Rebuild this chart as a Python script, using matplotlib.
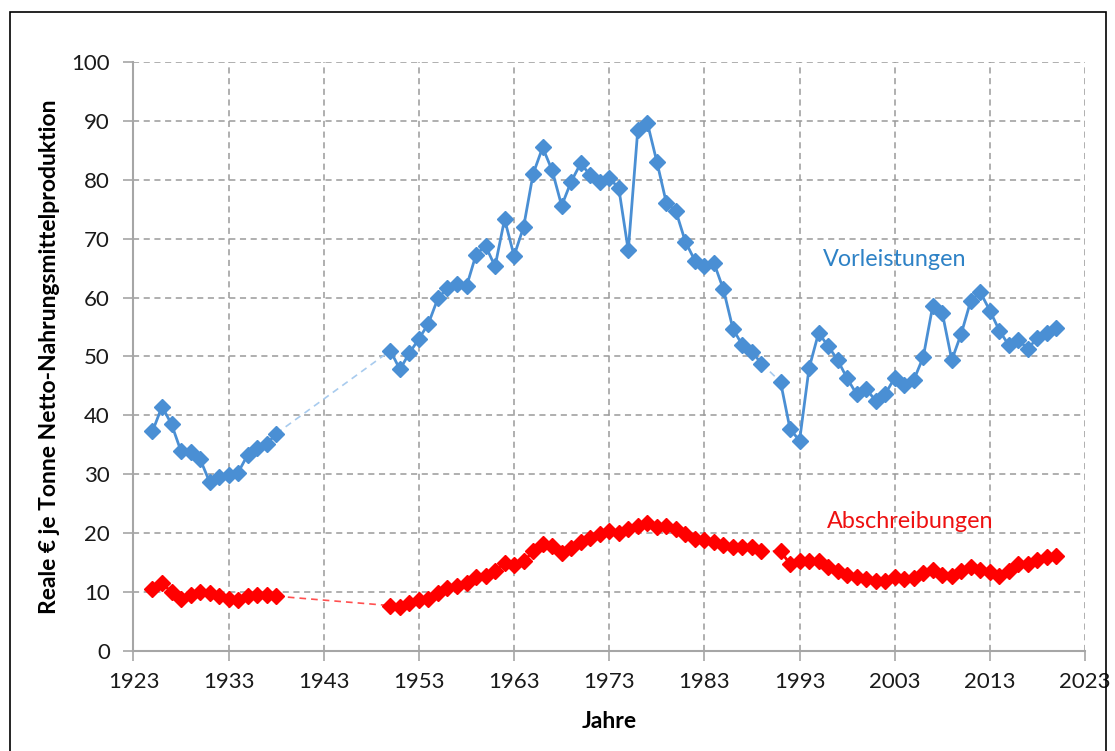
import matplotlib.pyplot as plt
from matplotlib.patches import Rectangle

plt.rcParams['font.family'] = ['Lato', 'DejaVu Sans']

# Vorleistungen (blue)
years_v = [1925, 1926, 1927, 1928, 1929, 1930, 1931, 1932, 1933, 1934, 1935, 1936, 1937, 1938,
           1950, 1951, 1952, 1953, 1954, 1955, 1956, 1957, 1958, 1959, 1960, 1961, 1962, 1963, 1964,
           1965, 1966, 1967, 1968, 1969, 1970, 1971, 1972, 1973, 1974, 1975, 1976, 1977, 1978, 1979,
           1980, 1981, 1982, 1983, 1984, 1985, 1986, 1987, 1988, 1989,
           1991, 1992, 1993, 1994, 1995, 1996, 1997, 1998, 1999, 2000, 2001, 2002, 2003, 2004, 2005,
           2006, 2007, 2008, 2009, 2010, 2011, 2012, 2013, 2014, 2015, 2016, 2017, 2018, 2019, 2020]
vorleistungen = [37.3, 41.5, 38.5, 33.9, 33.7, 32.6, 28.7, 29.6, 29.9, 30.3, 33.3, 34.4, 35.1, 36.9,
                 51.0, 47.8, 50.6, 53.0, 55.6, 59.9, 61.6, 62.3, 61.9, 67.3, 68.8, 65.3, 73.3, 67.1, 72.0,
                 81.0, 85.5, 81.6, 75.6, 79.7, 82.8, 80.8, 79.7, 80.3, 78.6, 68.0, 88.5, 89.7, 83.1, 76.1,
                 74.7, 69.5, 66.3, 65.3, 65.9, 61.4, 54.7, 51.9, 50.8, 48.8,
                 45.7, 37.7, 35.7, 48.0, 54.0, 51.8, 49.4, 46.3, 43.6, 44.5, 42.5, 43.6, 46.4, 45.1, 46.0,
                 49.9, 58.6, 57.4, 49.4, 53.9, 59.5, 60.9, 57.8, 54.4, 51.9, 52.8, 51.3, 53.2, 54.0, 54.8]

# Abschreibungen (red)
years_a = years_v
abschreibungen = [10.5, 11.5, 10.0, 8.9, 9.5, 10.0, 9.9, 9.4, 8.9, 8.7, 9.3, 9.5, 9.5, 9.3,
                  7.7, 7.4, 8.2, 8.7, 8.9, 9.8, 10.7, 11.1, 11.5, 12.6, 12.8, 13.6, 15.0, 14.6, 15.2,
                  16.9, 18.1, 17.9, 16.7, 17.5, 18.5, 19.2, 19.8, 20.3, 20.0, 20.7, 21.3, 21.7, 21.1, 21.2,
                  20.7, 19.8, 19.0, 18.8, 18.5, 18.0, 17.7, 17.7, 17.7, 16.9,
                  16.9, 14.8, 15.2, 15.2, 15.2, 14.3, 13.5, 12.9, 12.5, 12.2, 11.8, 11.9, 12.5, 12.3, 12.4,
                  13.2, 13.7, 12.9, 12.8, 13.5, 14.3, 13.7, 13.4, 12.8, 13.5, 14.8, 14.8, 15.4, 15.9, 16.2]

x_ticks = list(range(1923, 2024, 10))
y_ticks = list(range(0, 101, 10))


def split_segments(xs, ys):
    segs = [[[xs[0]], [ys[0]]]]
    for i in range(1, len(xs)):
        if xs[i] - xs[i - 1] > 1:
            segs.append([[], []])
        segs[-1][0].append(xs[i])
        segs[-1][1].append(ys[i])
    return segs


fig = plt.figure(figsize=(11.15, 7.51), dpi=100)
ax = fig.add_axes([0.1197, 0.1332, 0.8534, 0.7842])

# outer frame
fig.patches.append(Rectangle((10 / 1115, -0.05), 1096 / 1115, 1 - 12 / 751 + 0.05,
                             transform=fig.transFigure, fill=False, edgecolor='black', linewidth=1.2))

series = [
    (years_v, vorleistungen, '#4a8fd4', '#a8cbee'),
    (years_a, abschreibungen, '#ff0000', '#ff5050'),
]
for xs, ys, col, dash_col in series:
    segs = split_segments(xs, ys)
    # dashed connectors across the gaps
    for s1, s2 in zip(segs[:-1], segs[1:]):
        ax.plot([s1[0][-1], s2[0][0]], [s1[1][-1], s2[1][0]], color=dash_col,
                linestyle=(0, (4, 3)), linewidth=1.2, zorder=2)
    for sx, sy in segs:
        ax.plot(sx, sy, color=col, linewidth=2, marker='D', markersize=8,
                markeredgecolor=col, zorder=3)

ax.set_xlim(1923, 2023)
ax.set_ylim(0, 100)
ax.set_xticks(x_ticks)
ax.set_yticks(y_ticks)
ax.grid(True, color='#9a9a9a', linestyle=(0, (4, 3)), linewidth=1.1)
ax.set_axisbelow(True)

for side in ['top', 'right']:
    ax.spines[side].set_visible(False)
for side in ['left', 'bottom']:
    ax.spines[side].set_color('#a6a6a6')
    ax.spines[side].set_linewidth(1.5)
ax.tick_params(direction='out', length=7, width=1.2, color='#a6a6a6', labelsize=16,
               labelcolor='#1a1a1a')
ax.tick_params(axis='y', pad=10)
ax.tick_params(axis='x', pad=8)

ax.set_xlabel('Jahre', fontsize=16.5, fontweight='bold', labelpad=14)
ax.set_ylabel('Reale € je Tonne Netto-Nahrungsmittelproduktion', fontsize=16.5,
              fontweight='bold', labelpad=8)

ax.text(2003, 66.4, 'Vorleistungen', color='#2e82c6', fontsize=16.8, ha='center', va='center')
ax.text(2004.6, 21.9, 'Abschreibungen', color='#ee1111', fontsize=16.8, ha='center', va='center')

fig.savefig('out.png', dpi=100)
